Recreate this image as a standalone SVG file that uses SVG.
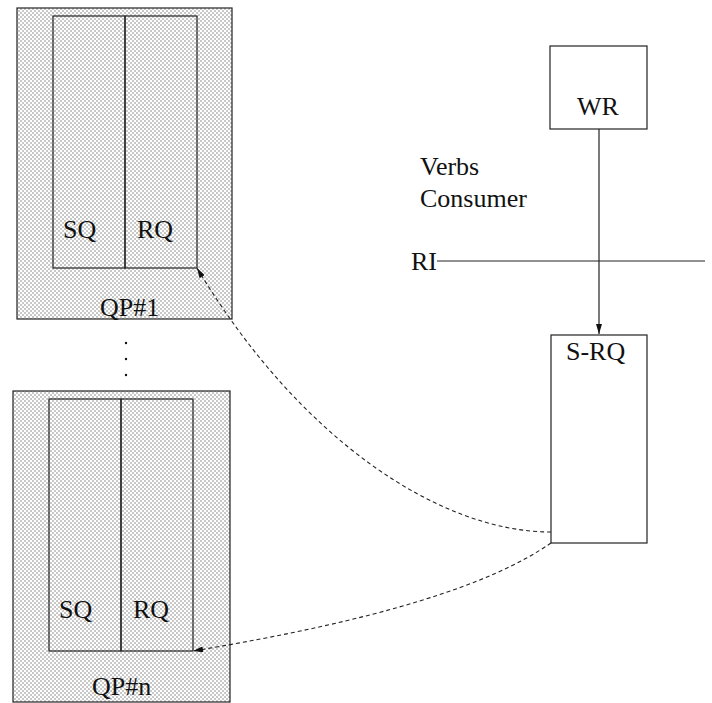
<svg xmlns="http://www.w3.org/2000/svg" width="712" height="703" viewBox="0 0 712 703">
  <style>
    .box { fill: none; stroke: #222; stroke-width: 1.2; }
    .qp { fill: url(#shade); stroke: #222; stroke-width: 1.2; }
    .lbl { font-family: "Liberation Serif", "Times New Roman", serif; font-size: 26px; fill: #111; }
    .wire { fill: none; stroke: #222; stroke-width: 1.2; }
    .dash { fill: none; stroke: #222; stroke-width: 1.1; stroke-dasharray: 4 3; }
  </style>
  <defs>
    <!-- fine checker shading used by the queue-pair blocks -->
    <pattern id="shade" width="4" height="4" patternUnits="userSpaceOnUse">
      <rect width="4" height="4" fill="#ffffff"/>
      <rect x="0" y="0" width="2" height="2" fill="#c8c8c8"/>
      <rect x="2" y="2" width="2" height="2" fill="#c8c8c8"/>
    </pattern>
    <marker id="arrow" viewBox="0 0 10 6" refX="10" refY="3" markerWidth="10" markerHeight="6" markerUnits="userSpaceOnUse" orient="auto">
      <path d="M0,0 L10,3 L0,6 Z" fill="#111"/>
    </marker>
  </defs>

  <!-- queue pair 1 -->
  <g id="qp1">
    <rect class="qp" x="17" y="8" width="215" height="311"/>
    <rect class="box" x="53" y="16" width="72" height="252"/>
    <rect class="box" x="125" y="16" width="72" height="252"/>
    <text class="lbl" x="63" y="238">SQ</text>
    <text class="lbl" x="137" y="238">RQ</text>
    <text class="lbl" x="100" y="316">QP#1</text>
  </g>

  <!-- ellipsis between queue pairs -->
  <g id="ellipsis" fill="#111">
    <circle cx="126" cy="343" r="1.2"/>
    <circle cx="126" cy="359" r="1.2"/>
    <circle cx="126" cy="375" r="1.2"/>
  </g>

  <!-- queue pair n -->
  <g id="qpn">
    <rect class="qp" x="13" y="391" width="217" height="311"/>
    <rect class="box" x="49" y="399" width="72" height="252"/>
    <rect class="box" x="121" y="399" width="72" height="252"/>
    <text class="lbl" x="59" y="618">SQ</text>
    <text class="lbl" x="133" y="618">RQ</text>
    <text class="lbl" x="92" y="695">QP#n</text>
  </g>

  <!-- work request -->
  <g id="wr">
    <rect class="box" x="550" y="46" width="97" height="83"/>
    <text class="lbl" x="577" y="115">WR</text>
  </g>

  <!-- shared receive queue -->
  <g id="srq">
    <rect class="box" x="551" y="335" width="96" height="208"/>
    <text class="lbl" x="566" y="360">S-RQ</text>
  </g>

  <!-- interface labels -->
  <g id="consumer">
    <text class="lbl" x="420" y="175">Verbs</text>
    <text class="lbl" x="420" y="207">Consumer</text>
  </g>
  <g id="ri">
    <text class="lbl" x="411" y="270">RI</text>
    <line class="wire" x1="437" y1="261" x2="705" y2="261"/>
  </g>

  <!-- connectors -->
  <g id="connectors">
    <line class="wire" x1="599" y1="129" x2="599" y2="334" marker-end="url(#arrow)"/>
    <path class="dash" d="M551,532 C440,532 300,440 197,268" marker-end="url(#arrow)"/>
    <path class="dash" d="M551,543 C490,585 380,620 193,651" marker-end="url(#arrow)"/>
  </g>
</svg>
